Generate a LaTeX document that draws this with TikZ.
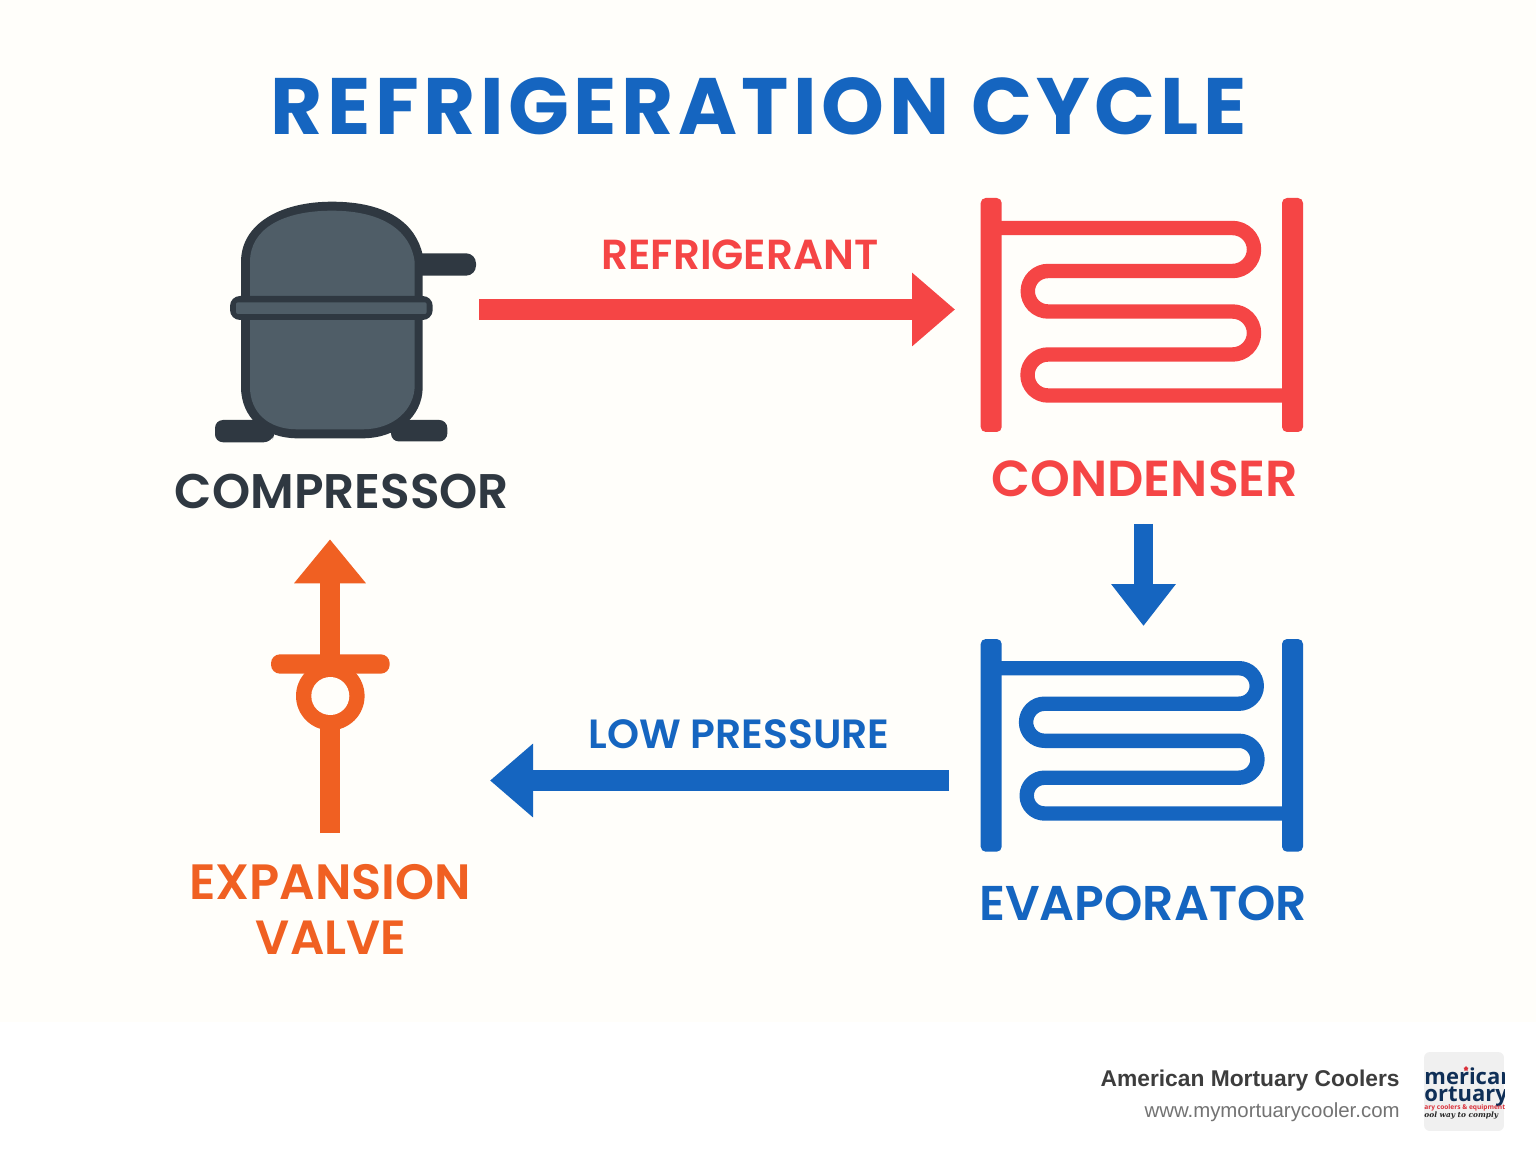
\documentclass[tikz,border=0pt]{standalone}
\usepackage{fontspec}
\setmainfont{Poppins}
\newfontfamily\semifont{Poppins SemiBold}
\newfontfamily\titlefont[LetterSpace=5.7]{Poppins}
\newfontfamily\footfont{Liberation Sans}
\newfontfamily\logofont{Open Sans}
\newfontfamily\scriptlogo{DejaVu Serif}
\usetikzlibrary{arrows.meta,shapes.geometric}
\definecolor{bgcream}{HTML}{FFFEFA}
\definecolor{cycblue}{HTML}{1565C0}
\definecolor{cycred}{HTML}{F54545}
\definecolor{cycorange}{HTML}{F06022}
\definecolor{cycdark}{HTML}{2F3841}
\definecolor{cycslate}{HTML}{4F5D67}
\definecolor{logonavy}{HTML}{0F2F57}
\definecolor{logored}{HTML}{D9303A}
\tikzset{
  lbl/.style={anchor=base,inner sep=0pt,font=\semifont\fontsize{#1}{#1}\selectfont},
  flowarrow/.style={line width=10.5pt,-{Triangle[length=21.5pt,width=35.5pt]}},
  tube/.style={line width=7.2pt,line cap=butt,line join=round},
  barpost/.style={rounded corners=2.5pt},
}
\begin{document}
\begin{tikzpicture}[x=0.5pt,y=-0.5pt]
\useasboundingbox (0,0) rectangle (1536,1154);
\fill[white] (0,0) rectangle (1536,1154);
\fill[bgcream] (0,0) rectangle (1536,1022);

% title
\node[anchor=base,inner sep=0pt,text=cycblue,font=\titlefont\bfseries\fontsize{40}{40}\selectfont] (title) at (758.5,135) {REFRIGERATION CYCLE};

% compressor
\fill[cycdark,rounded corners=4pt] (215,420) -- (275,420) -- (275,432) -- (271.7,442.3) -- (215,442.3) -- cycle;
\fill[cycdark,rounded corners=4pt] (391,420) -- (447.3,420) -- (447.3,441.5) -- (391,441.5) -- cycle;
\fill[cycdark,rounded corners=5pt] (410,253.3) -- (476,253.3) -- (476,275.7) -- (410,275.7) -- cycle;
\fill[cycdark] (241,262) .. controls (241,224) and (280,201.7) .. (332,201.7)
  .. controls (388,201.7) and (416,224) .. (422.7,255) -- (422.7,387)
  .. controls (422.7,418) and (395,438.3) .. (363,438.3) -- (297,438.3)
  .. controls (265,438.3) and (241,418) .. (241,387) -- cycle;
\fill[cycslate] (250,262) .. controls (250,228) and (284,210.7) .. (332,210.7)
  .. controls (384,210.7) and (411,232) .. (414.7,262) -- (414.7,385)
  .. controls (414.7,410) and (393,429.3) .. (363,429.3) -- (297,429.3)
  .. controls (268,429.3) and (250,412) .. (250,387) -- cycle;
\fill[cycdark,rounded corners=5pt] (230,296) rectangle (432.7,320);
\fill[cycslate,rounded corners=1pt] (236,302.3) rectangle (426.7,314);
\node[lbl=24.3,text=cycdark] (compressor) at (342,509) {COMPRESSOR};

% refrigerant arrow
\coordinate (refstart) at (479,309.5);
\coordinate (refend) at (955,309.5);
\draw[flowarrow,draw=cycred,fill=cycred] (refstart) -- (refend);
\node[lbl=21,text=cycred] (refrigerant) at (740,270) {REFRIGERANT};

% condenser
\fill[cycred,barpost] (980.7,198) rectangle (1001.7,432);
\fill[cycred,barpost] (1282,198) rectangle (1303,432);
\draw[tube,cycred] (1001,228) -- (1232.5,228) arc[start angle=-90,end angle=90,radius=21.5]
  -- (1048,271) arc[start angle=270,end angle=90,radius=20.25]
  -- (1232.5,311.5) arc[start angle=-90,end angle=90,radius=21.5]
  -- (1048,354.5) arc[start angle=270,end angle=90,radius=20.5]
  -- (1283,395.5);
\node[lbl=25.3,text=cycred] (condenser) at (1145,497) {CONDENSER};

% down arrow
\coordinate (downstart) at (1143.5,524);
\coordinate (downend) at (1143.5,626);
\draw[line width=9.75pt,-{Triangle[length=21pt,width=31pt]},draw=cycblue,fill=cycblue] (downstart) -- (downend);

% evaporator
\fill[cycblue,barpost] (980.7,639) rectangle (1001.7,851.7);
\fill[cycblue,barpost] (1282,639) rectangle (1303,851.7);
\draw[tube,cycblue] (1001,668.2) -- (1239,668.2) arc[start angle=-90,end angle=90,radius=17.75]
  -- (1044.6,703.7) arc[start angle=270,end angle=90,radius=18.55]
  -- (1239,740.8) arc[start angle=-90,end angle=90,radius=18.45]
  -- (1044.6,777.7) arc[start angle=270,end angle=90,radius=17.9]
  -- (1283,813.5);
\node[lbl=24.4,text=cycblue] (evaporator) at (1143,920) {EVAPORATOR};

% low pressure arrow
\coordinate (lowstart) at (949,780.5);
\coordinate (lowend) at (490,780.5);
\draw[flowarrow,draw=cycblue,fill=cycblue] (lowstart) -- (lowend);
\node[lbl=20.4,text=cycblue] (lowpressure) at (739,748) {LOW PRESSURE};

% expansion valve
\coordinate (valvestart) at (330,833);
\coordinate (valveend) at (330,539.3);
\draw[line width=9.9pt,-{Triangle[length=22pt,width=34.5pt]},draw=cycorange,fill=cycorange] (valvestart) -- (valveend);
\fill[cycorange,rounded corners=4.5pt] (271,654.3) rectangle (389.7,673.7);
\fill[cycorange] (330.3,696) circle[radius=34.3];
\fill[bgcream] (330.3,696) circle[radius=19];
\node[lbl=24.8,text=cycorange] (expansion) at (330,899) {EXPANSION};
\node[lbl=24,text=cycorange] (valve) at (331,954) {VALVE};

% footer
\node[anchor=base east,inner sep=0pt,text=black!76,font=\footfont\bfseries\fontsize{11.4}{11.4}\selectfont] (brand) at (1400,1086) {American Mortuary Coolers};
\node[anchor=base east,inner sep=0pt,text=black!55,font=\footfont\fontsize{10.2}{10.2}\selectfont] (site) at (1400,1117) {www.mymortuarycooler.com};

% logo
\begin{scope}
\path[clip,rounded corners=3pt] (1424,1052) rectangle (1504,1131);
\fill[black!6] (1424,1052) rectangle (1504,1131);
\node[anchor=base west,inner sep=0pt,text=logonavy,font=\logofont\bfseries\fontsize{11}{11}\selectfont] (logoa) at (1424,1084) {merican};
\node[anchor=base west,inner sep=0pt,text=logonavy,font=\logofont\bfseries\fontsize{11}{11}\selectfont] (logob) at (1424,1101) {ortuary};
\node[anchor=base west,inner sep=0pt,text=logored,font=\logofont\bfseries\fontsize{3.3}{3.3}\selectfont] (logoc) at (1424,1109) {ary coolers \& equipment};
\node[anchor=base west,inner sep=0pt,text=black!85,font=\scriptlogo\itshape\bfseries\fontsize{3.7}{3.7}\selectfont] (logod) at (1424,1117) {ool way to comply};
\node[star,star points=5,fill=logored,inner sep=0pt,minimum size=2.6pt] (logostar) at (1466,1068.7) {};
\end{scope}
\end{tikzpicture}
\end{document}
